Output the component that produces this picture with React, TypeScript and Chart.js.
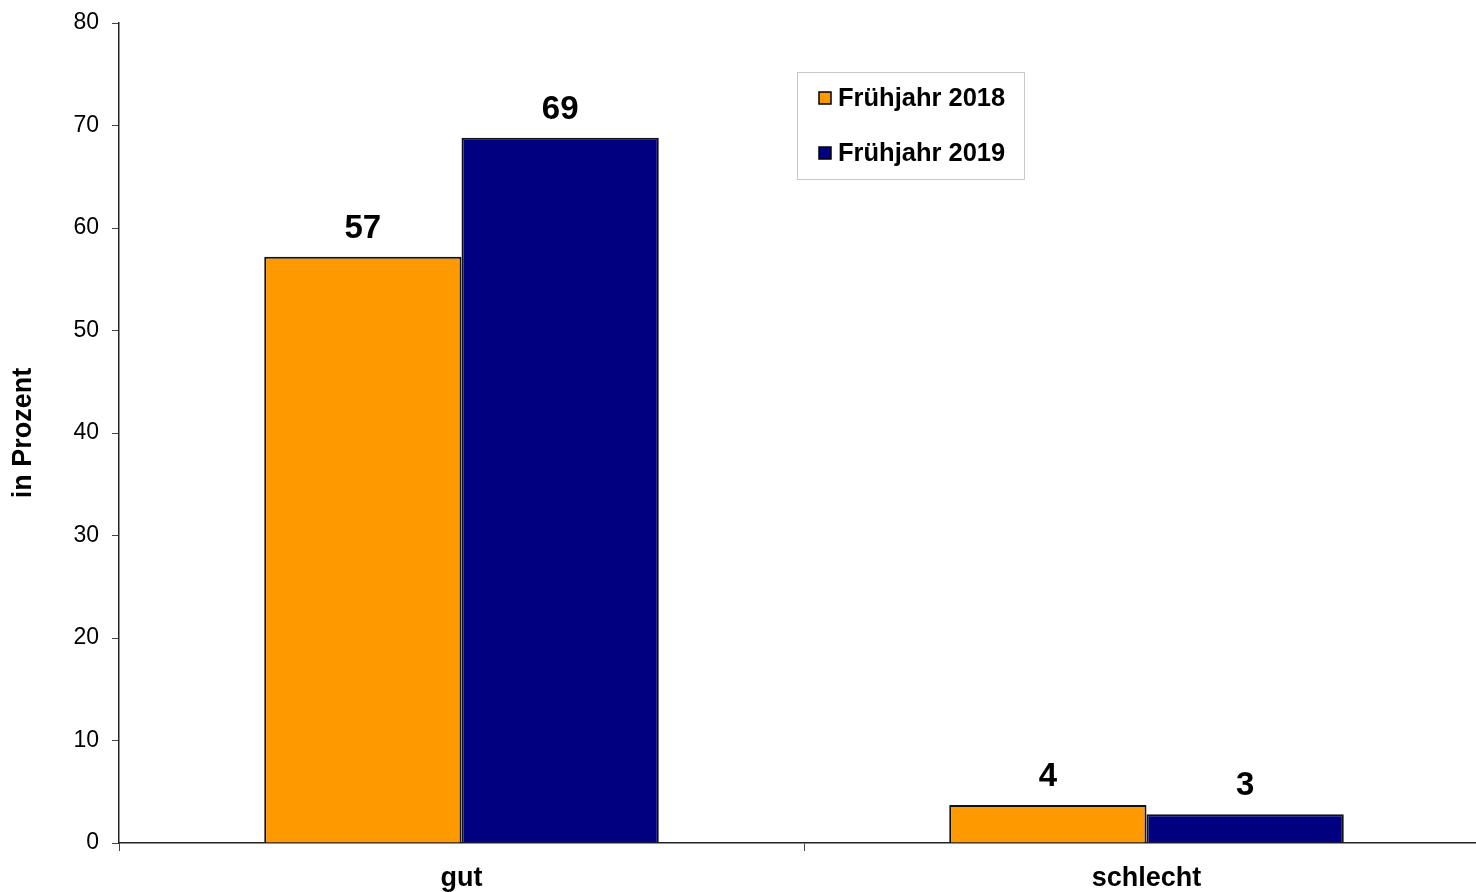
import React, { useEffect, useRef } from "react";
import { Chart, registerables } from "chart.js";

Chart.register(...registerables);

const categories = ["gut", "schlecht"];
const seriesNames = ["Frühjahr 2018", "Frühjahr 2019"];
const values2018 = [57.2, 3.7];
const values2019 = [68.8, 2.8];
const valueLabels2018 = ["57", "4"];
const valueLabels2019 = ["69", "3"];
const yTicks = [0, 10, 20, 30, 40, 50, 60, 70, 80];
const yTitle = "in Prozent";

const FONT = "Arial, 'Liberation Sans', sans-serif";
const colors = ["#FF9900", "#000080"];

export default function App() {
  const ref = useRef<HTMLCanvasElement | null>(null);

  useEffect(() => {
    if (!ref.current) return;
    const labelSets = [valueLabels2018, valueLabels2019];

    const valueLabelPlugin = {
      id: "valueLabels",
      afterDatasetsDraw(chart: any) {
        const ctx = chart.ctx;
        ctx.save();
        ctx.fillStyle = "#000";
        ctx.font = `bold 33px ${FONT}`;
        ctx.textAlign = "center";
        ctx.textBaseline = "alphabetic";
        chart.data.datasets.forEach((ds: any, di: number) => {
          const meta = chart.getDatasetMeta(di);
          meta.data.forEach((bar: any, i: number) => {
            ctx.fillText(labelSets[di][i], bar.x, bar.y - 19);
          });
        });
        ctx.restore();
      },
    };

    const legendPlugin = {
      id: "boxLegend",
      afterDraw(chart: any) {
        const ctx = chart.ctx;
        ctx.save();
        ctx.fillStyle = "#fff";
        ctx.fillRect(797, 72, 227, 107);
        ctx.strokeStyle = "#c8c8c8";
        ctx.lineWidth = 1;
        ctx.strokeRect(797.5, 72.5, 227, 107);
        const rows = [98, 153];
        chart.data.datasets.forEach((ds: any, i: number) => {
          const cy = rows[i];
          ctx.fillStyle = ds.backgroundColor;
          ctx.fillRect(819, cy - 6, 12, 12);
          ctx.strokeStyle = "#000";
          ctx.lineWidth = 1.5;
          ctx.strokeRect(819, cy - 6, 12, 12);
          ctx.fillStyle = "#000";
          ctx.font = `bold 25.5px ${FONT}`;
          ctx.textAlign = "left";
          ctx.textBaseline = "middle";
          ctx.fillText(ds.label, 838, cy + 1);
        });
        ctx.restore();
      },
    };

    const chart = new Chart(ref.current, {
      type: "bar",
      data: {
        labels: categories,
        datasets: [
          {
            label: seriesNames[0],
            data: values2018,
            backgroundColor: colors[0],
            borderColor: "#111",
            borderWidth: 2,
            barPercentage: 1,
            categoryPercentage: 0.576,
          },
          {
            label: seriesNames[1],
            data: values2019,
            backgroundColor: colors[1],
            borderColor: "#111",
            borderWidth: 2,
            barPercentage: 1,
            categoryPercentage: 0.576,
          },
        ],
      },
      options: {
        responsive: false,
        animation: false,
        layout: { padding: { top: 23, right: 11, bottom: 0, left: 0 } },
        plugins: {
          legend: { display: false },
          tooltip: { enabled: false },
        },
        scales: {
          x: {
            grid: {
              display: true,
              offset: true,
              drawOnChartArea: false,
              drawTicks: true,
              tickLength: 8,
              color: "#444",
              lineWidth: 1,
            },
            border: { display: true, color: "#222", width: 1.5 },
            ticks: {
              color: "#000",
              font: { family: FONT, size: 27, weight: "bold" },
              padding: 11,
            },
            afterFit(scale: any) {
              scale.height = 49;
              scale.paddingLeft = 0;
              scale.paddingRight = 0;
            },
          },
          y: {
            min: 0,
            max: 80,
            afterBuildTicks(scale: any) {
              scale.ticks = yTicks.map((v) => ({ value: v }));
            },
            grid: {
              display: true,
              drawOnChartArea: false,
              drawTicks: true,
              tickLength: 7,
              color: "#444",
              lineWidth: 1,
            },
            border: { display: true, color: "#222", width: 1.5 },
            ticks: {
              color: "#000",
              font: { family: FONT, size: 23 },
              padding: 13,
            },
            title: {
              display: true,
              text: yTitle,
              color: "#000",
              font: { family: FONT, size: 27, weight: "bold" },
              padding: { top: 7, bottom: 4 },
            },
            afterFit(scale: any) {
              scale.width = 119;
              scale.paddingTop = 0;
              scale.paddingBottom = 0;
            },
          },
        },
      },
      plugins: [valueLabelPlugin, legendPlugin],
    });
    return () => chart.destroy();
  }, []);

  return (
    <div
      style={{
        position: "absolute",
        left: 0,
        top: 0,
        width: 1476,
        height: 892,
        overflow: "hidden",
        background: "#fff",
      }}
    >
      <canvas ref={ref} width={1500} height={892} style={{ display: "block" }} />
    </div>
  );
}
